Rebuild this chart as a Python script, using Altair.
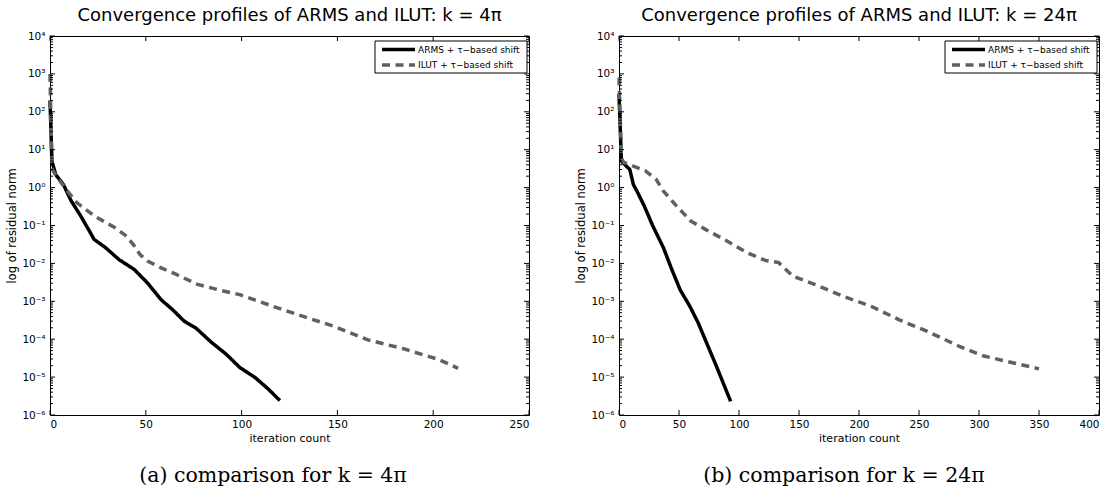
import altair as alt
import pandas as pd

# ---- series: (iteration, residual norm) ----
methods = ["ARMS + τ−based shift", "ILUT + τ−based shift"]

arms_a_iter = [0, 1, 3, 7, 11, 16, 20, 23, 29, 36, 44, 51, 58, 64, 70, 76, 84, 92, 99, 107, 114, 120]
arms_a_res = [200, 5, 2.2, 1.2, 0.45, 0.18, 0.08, 0.043, 0.026, 0.0126, 0.0069, 0.003, 0.0011,
              0.0006, 0.0003, 0.0002, 8.5e-5, 4e-5, 1.8e-5, 9.8e-6, 4.8e-6, 2.4e-6]

ilut_a_iter = [0, 1, 4, 8, 14, 23, 34, 40, 44, 47, 51, 58, 66, 77, 88, 99, 114, 129, 148, 166, 185, 203, 213]
ilut_a_res = [1000, 3.1, 1.8, 0.95, 0.4, 0.18, 0.087, 0.052, 0.029, 0.017, 0.0115, 0.0076, 0.0051,
              0.0028, 0.002, 0.0015, 0.00081, 0.00045, 0.00022, 9.6e-5, 5.5e-5, 2.9e-5, 1.7e-5]

arms_b_iter = [0, 2, 5, 9, 12, 15, 21, 28, 37, 44, 51, 59, 66, 72, 81, 93]
arms_b_res = [300, 5, 4, 3, 1.2, 0.8, 0.33, 0.1, 0.026, 0.0069, 0.002, 0.00074, 0.00027,
              9.5e-5, 2e-5, 2.3e-6]

ilut_b_iter = [0, 2, 4, 22, 31, 37, 49, 60, 72, 90, 107, 122, 133, 145, 163, 187, 210, 234,
               257, 275, 283, 304, 328, 350]
ilut_b_res = [800, 6, 4.6, 2.75, 1.65, 0.81, 0.3, 0.13, 0.079, 0.039, 0.019, 0.012, 0.0105,
              0.0046, 0.0028, 0.00135, 0.00074, 0.00032, 0.00016, 8.7e-5, 6.6e-5, 3.6e-5,
              2.4e-5, 1.65e-5]

# ---- axes ----
y_major = [1e-6, 1e-5, 1e-4, 1e-3, 1e-2, 1e-1, 1e0, 1e1, 1e2, 1e3, 1e4]
y_labels = ["10⁻⁶", "10⁻⁵", "10⁻⁴", "10⁻³", "10⁻²", "10⁻¹", "10⁰", "10¹", "10²", "10³", "10⁴"]
y_minor = [m * 10.0 ** k for k in range(-6, 4) for m in range(2, 10)]
x_ticks_a = [0, 50, 100, 150, 200, 250]
x_ticks_b = [0, 50, 100, 150, 200, 250, 300, 350, 400]

titles = ["Convergence profiles of ARMS and ILUT: k = 4π",
          "Convergence profiles of ARMS and ILUT: k = 24π"]
captions = ["(a) comparison for k = 4π", "(b) comparison for k = 24π"]

# ---- style ----
FONT = "DejaVu Sans"
SERIF = "DejaVu Serif"
COLORS = ["#000000", "#606060"]
DASHES = [[1, 0], [8, 5.5]]
LW = 3.5
H = 379
MAJ, MIN = 5, 3

label_expr = "[" + ",".join(f"'{s}'" for s in y_labels) + "][round(log(datum.value)/LN10)+6]"


def frame(arms_i, arms_r, ilut_i, ilut_r):
    return pd.DataFrame({
        "iter": arms_i + ilut_i,
        "res": arms_r + ilut_r,
        "method": [methods[0]] * len(arms_i) + [methods[1]] * len(ilut_i),
    })


def panel(df, xmax, xticks, W, title, caption, cap_x):
    xs = alt.Scale(domain=[0, xmax], nice=False, zero=False)
    ys = alt.Scale(type="log", domain=[1e-6, 1e4], nice=False)
    x_axis = alt.Axis(
        values=xticks, title="iteration count", ticks=False, domain=False, grid=False,
        labelFont=FONT, labelFontSize=10.5, labelColor="black", labelPadding=4,
        titleFont=FONT, titleFontSize=11, titleFontWeight="normal", titleColor="black",
        titlePadding=3)
    y_axis = alt.Axis(
        values=y_major, labelExpr=label_expr, title="log of residual norm",
        ticks=False, domain=False, grid=False,
        labelFont=FONT, labelFontSize=10.5, labelColor="black", labelPadding=5,
        titleFont=FONT, titleFontSize=11.5, titleFontWeight="normal", titleColor="black",
        titlePadding=4)

    lines = alt.Chart(df).mark_line(strokeWidth=LW, strokeCap="butt", strokeJoin="round").encode(
        x=alt.X("iter:Q", scale=xs, axis=x_axis),
        y=alt.Y("res:Q", scale=ys, axis=y_axis),
        color=alt.Color("method:N", scale=alt.Scale(domain=methods, range=COLORS), legend=None),
        strokeDash=alt.StrokeDash("method:N", scale=alt.Scale(domain=methods, range=DASHES),
                                  legend=None),
        order="iter:Q",
    )

    # inward ticks on all four sides of the box
    def yt(vals, n):
        base = alt.Chart(pd.DataFrame({"res": vals})).mark_rule(color="black", strokeWidth=1)
        y = alt.Y("res:Q", scale=ys, axis=y_axis)
        return [base.encode(y=y, x=alt.value(0), x2=alt.value(n)),
                base.encode(y=y, x=alt.value(W - n), x2=alt.value(W))]

    xbase = alt.Chart(pd.DataFrame({"iter": xticks})).mark_rule(color="black", strokeWidth=1)
    xx = alt.X("iter:Q", scale=xs, axis=x_axis)
    xt = [xbase.encode(x=xx, y=alt.value(0), y2=alt.value(MAJ)),
          xbase.encode(x=xx, y=alt.value(H - MAJ), y2=alt.value(H))]

    # legend box in the upper right corner
    box = alt.Chart(pd.DataFrame({"k": [0]})).mark_rect(
        fill="white", stroke="black", strokeWidth=1
    ).encode(x=alt.value(W - 154), x2=alt.value(W - 2), y=alt.value(5), y2=alt.value(37))
    keys = []
    for i, m in enumerate(methods):
        row = alt.Chart(pd.DataFrame({"method": [m]}))
        yy = 13.5 + i * 15.5
        keys.append(row.mark_rule(color=COLORS[i], strokeDash=DASHES[i], strokeWidth=LW,
                                  strokeCap="butt").encode(
            x=alt.value(W - 147), x2=alt.value(W - 114), y=alt.value(yy)))
        keys.append(row.mark_text(font=FONT, fontSize=9, align="left", baseline="middle",
                                  color="black").encode(
            x=alt.value(W - 111), y=alt.value(yy), text="method:N"))

    cap = alt.Chart(pd.DataFrame({"t": [caption]})).mark_text(
        font=SERIF, fontSize=20.5, align="center", baseline="middle", color="black"
    ).encode(x=alt.value(cap_x), y=alt.value(H + 61), text="t:N")

    return alt.layer(lines, *yt(y_major, MAJ), *yt(y_minor, MIN), *xt, box, *keys, cap).properties(
        width=W, height=H,
        title=alt.TitleParams(title, font=FONT, fontSize=18, fontWeight="normal",
                              color="black", anchor="middle", frame="group", offset=6),
    )


pa = panel(frame(arms_a_iter, arms_a_res, ilut_a_iter, ilut_a_res), 250, x_ticks_a, 479,
           titles[0], captions[0], 223)
pb = panel(frame(arms_b_iter, arms_b_res, ilut_b_iter, ilut_b_res), 400, x_ticks_b, 480,
           titles[1], captions[1], 225)

chart = alt.hconcat(pa, pb, spacing=45).resolve_scale(
    x="independent", color="independent", strokeDash="independent"
).configure(
    padding={"left": 6, "top": 6, "right": 0, "bottom": 0}
).configure_view(stroke="black", strokeWidth=1)

chart.save("out.html", embed_options={"renderer": "svg", "actions": False})
